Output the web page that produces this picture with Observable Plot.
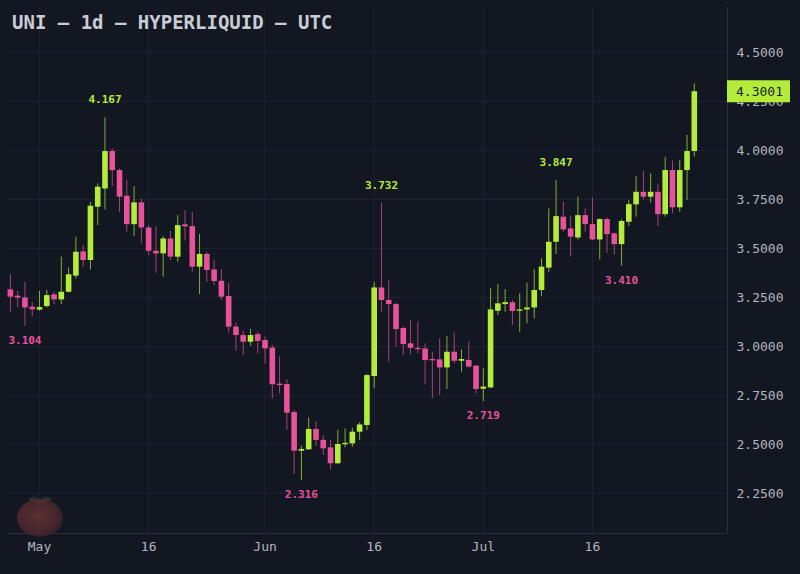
<!DOCTYPE html>
<html><head><meta charset="utf-8">
<script src="https://cdn.jsdelivr.net/npm/d3@7"></script>
<script src="https://cdn.jsdelivr.net/npm/@observablehq/plot@0.6"></script>
<style>
html,body{margin:0;padding:0;background:#131722;}
#wrap{position:relative;width:800px;height:574px;overflow:hidden;background:#131722;}
#title{position:absolute;left:12px;top:13px;font:bold 19px/19px "DejaVu Sans Mono",monospace;color:#c9ccd3;white-space:pre;}
#peach{position:absolute;left:15px;top:494px;}
</style></head><body>
<div id="wrap"><div id="chart"></div>
<div id="title">UNI — 1d — HYPERLIQUID — UTC</div>
<svg id="peach" width="50" height="44" viewBox="0 0 50 44">
  <defs><radialGradient id="pg" cx="45%" cy="45%" r="62%">
    <stop offset="0%" stop-color="#7a3a38"/><stop offset="70%" stop-color="#5a2b30"/><stop offset="100%" stop-color="#2e1e28"/></radialGradient></defs>
  <path d="M13 5 Q20 0 25 6 Q30 0 37 5 Q32 9 25 9 Q18 9 13 5Z" fill="#2e4236" opacity="0.7"/>
  <ellipse cx="25" cy="24" rx="23" ry="19" fill="url(#pg)" opacity="0.7"/>
</svg>
</div>
<script>
// ---- data ----
const dates = ["2024-04-27","2024-04-28","2024-04-29","2024-04-30",
"2024-05-01","2024-05-02","2024-05-03","2024-05-04","2024-05-05","2024-05-06","2024-05-07","2024-05-08","2024-05-09","2024-05-10",
"2024-05-11","2024-05-12","2024-05-13","2024-05-14","2024-05-15","2024-05-16","2024-05-17","2024-05-18","2024-05-19","2024-05-20",
"2024-05-21","2024-05-22","2024-05-23","2024-05-24","2024-05-25","2024-05-26","2024-05-27","2024-05-28","2024-05-29","2024-05-30","2024-05-31",
"2024-06-01","2024-06-02","2024-06-03","2024-06-04","2024-06-05","2024-06-06","2024-06-07","2024-06-08","2024-06-09","2024-06-10",
"2024-06-11","2024-06-12","2024-06-13","2024-06-14","2024-06-15","2024-06-16","2024-06-17","2024-06-18","2024-06-19","2024-06-20",
"2024-06-21","2024-06-22","2024-06-23","2024-06-24","2024-06-25","2024-06-26","2024-06-27","2024-06-28","2024-06-29","2024-06-30",
"2024-07-01","2024-07-02","2024-07-03","2024-07-04","2024-07-05","2024-07-06","2024-07-07","2024-07-08","2024-07-09","2024-07-10",
"2024-07-11","2024-07-12","2024-07-13","2024-07-14","2024-07-15","2024-07-16","2024-07-17","2024-07-18","2024-07-19","2024-07-20",
"2024-07-21","2024-07-22","2024-07-23","2024-07-24","2024-07-25","2024-07-26","2024-07-27","2024-07-28","2024-07-29","2024-07-30"];
const open = [3.289,3.257,3.248,3.201,
3.186,3.204,3.264,3.238,3.277,3.359,3.483,3.439,3.711,3.804,
3.995,3.898,3.767,3.622,3.733,3.605,3.486,3.473,3.549,3.456,
3.621,3.612,3.405,3.470,3.391,3.333,3.255,3.099,3.056,3.022,3.061,
3.031,2.992,2.808,2.806,2.663,2.466,2.473,2.577,2.521,2.483,
2.402,2.499,2.503,2.563,2.597,2.847,3.299,3.235,3.214,3.092,
3.014,2.991,2.988,2.934,2.932,2.891,2.971,2.925,2.929,2.900,
2.782,2.789,3.180,3.214,3.223,3.180,3.187,3.197,3.286,3.400,
3.532,3.660,3.600,3.554,3.668,3.622,3.544,3.648,3.575,3.520,
3.634,3.723,3.787,3.762,3.787,3.673,3.898,3.708,3.898,3.995];
const high = [3.367,3.281,3.328,3.226,
3.281,3.286,3.277,3.456,3.401,3.558,3.515,3.736,3.830,4.167,
4.008,3.906,3.850,3.816,3.753,3.617,3.612,3.561,3.588,3.668,
3.694,3.685,3.572,3.481,3.442,3.393,3.323,3.119,3.078,3.087,3.073,
3.048,3.005,2.946,2.830,2.674,2.490,2.636,2.614,2.546,2.521,
2.572,2.580,2.583,2.611,2.857,3.328,3.732,3.337,3.221,3.099,
3.133,3.124,3.014,2.971,3.039,3.051,3.068,2.983,3.022,2.903,
2.886,3.294,3.316,3.291,3.235,3.269,3.323,3.391,3.447,3.702,
3.847,3.736,3.663,3.762,3.702,3.758,3.651,3.656,3.580,3.646,
3.745,3.867,3.893,3.881,3.830,3.966,3.946,3.949,4.077,4.340];
const low = [3.175,3.197,3.104,3.150,
3.180,3.197,3.214,3.214,3.272,3.345,3.405,3.391,3.617,3.697,
3.816,3.685,3.583,3.561,3.524,3.464,3.374,3.354,3.439,3.430,
3.538,3.379,3.265,3.328,3.311,3.235,3.068,2.976,2.954,3.002,2.963,
2.912,2.733,2.759,2.572,2.347,2.316,2.470,2.490,2.444,2.371,
2.398,2.483,2.486,2.520,2.571,2.784,3.175,2.920,2.997,2.954,
2.958,2.963,2.804,2.733,2.750,2.781,2.912,2.869,2.891,2.759,
2.719,2.784,3.158,3.175,3.107,3.073,3.116,3.141,3.255,3.379,
3.469,3.583,3.456,3.544,3.583,3.541,3.442,3.476,3.469,3.410,
3.612,3.660,3.748,3.731,3.612,3.660,3.677,3.685,3.745,3.966];
const close = [3.252,3.247,3.197,3.187,
3.199,3.260,3.238,3.277,3.366,3.481,3.439,3.716,3.813,3.995,
3.898,3.762,3.622,3.733,3.605,3.486,3.473,3.549,3.456,3.617,
3.611,3.405,3.470,3.388,3.332,3.252,3.099,3.056,3.022,3.056,3.026,
2.988,2.805,2.801,2.660,2.466,2.475,2.577,2.521,2.478,2.402,
2.500,2.505,2.563,2.600,2.852,3.299,3.235,3.214,3.087,3.010,
2.991,2.985,2.929,2.927,2.891,2.971,2.925,2.934,2.895,2.781,
2.793,3.187,3.218,3.224,3.179,3.187,3.197,3.286,3.405,3.532,
3.663,3.595,3.558,3.668,3.622,3.544,3.648,3.571,3.520,3.638,
3.724,3.787,3.762,3.787,3.673,3.898,3.708,3.898,3.995,4.3001];

// swing-high / swing-low annotations
const highDates = ["2024-05-10","2024-06-17","2024-07-11"];
const highValues = [4.167,3.732,3.847];
const lowDates = ["2024-04-29","2024-06-06","2024-07-01","2024-07-20"];
const lowValues = [3.104,2.316,2.719,3.410];

const yTicks = [2.25,2.5,2.75,3.0,3.25,3.5,3.75,4.0,4.25,4.5];
const xTickDates = ["2024-05-01","2024-05-16","2024-06-01","2024-06-16","2024-07-01","2024-07-16"];
const xTickLabels = ["May","16","Jun","16","Jul","16"];

const UP = "#b4ec3c", DOWN = "#e8529c";
const toDate = d => new Date(d + "T00:00:00Z");

const candles = dates.map((d, i) => ({date: toDate(d), open: open[i], high: high[i], low: low[i], close: close[i]}));
const highs = highDates.map((d, i) => ({date: toDate(d), value: highValues[i]}));
const lows = lowDates.map((d, i) => ({date: toDate(d), value: lowValues[i]}));
const xTicks = xTickDates.map(toDate);

const xStart = new Date("2024-04-26T17:45:00Z");
const xEnd = new Date("2024-08-03T13:30:00Z");
const yMin = 2.046, yMax = 4.73;
const colorOf = d => d.close >= d.open ? UP : DOWN;
const minBody = 0.007;
const bodyEnd = d => Math.abs(d.close - d.open) < minBody ? d.open + (d.close >= d.open ? minBody : -minBody) : d.close;
const fmt3 = d3.format(".3f");

const chart = Plot.plot({
  width: 800, height: 574,
  marginTop: 7, marginBottom: 41, marginLeft: 8, marginRight: 73,
  style: {background: "#131722", color: "#b2b5be", fontFamily: "'DejaVu Sans Mono', monospace", fontSize: "13px", overflow: "visible"},
  x: {type: "utc", domain: [xStart, xEnd], label: null},
  y: {domain: [yMin, yMax], label: null},
  marks: [
    Plot.gridY(yTicks, {stroke: "#1f2331", strokeOpacity: 1}),
    Plot.gridX(xTicks, {stroke: "#1f2331", strokeOpacity: 1}),
    Plot.ruleX(candles, {x: "date", y1: "low", y2: "high", stroke: colorOf, strokeOpacity: 0.7, strokeWidth: 1}),
    Plot.ruleX(candles, {x: "date", y1: "open", y2: bodyEnd, stroke: colorOf, strokeWidth: 5.6}),
    Plot.ruleX([xEnd], {stroke: "#2a2e3b"}),
    Plot.ruleY([yMin], {stroke: "#2a2e3b"}),
    Plot.axisY(yTicks, {anchor: "right", tickSize: 0, tickPadding: 9, tickFormat: d3.format(".4f"), fill: "#b2b5be", fontSize: 13}),
    Plot.axisX(xTicks, {anchor: "bottom", tickSize: 0, tickPadding: 8, tickFormat: d => xTickLabels[xTicks.findIndex(t => +t === +d)], fill: "#b2b5be", fontSize: 13}),
    Plot.text(highs, {x: "date", y: "value", text: d => fmt3(d.value), dy: -18, lineAnchor: "middle", fill: UP, fontSize: 11, fontWeight: "bold"}),
    Plot.text(lows, {x: "date", y: "value", text: d => fmt3(d.value), dy: 14, lineAnchor: "middle", fill: DOWN, fontSize: 11, fontWeight: "bold"})
  ]
});
document.getElementById("chart").appendChild(chart);
// last-price tag on the y axis, positioned through the chart's own scales
const last = candles[candles.length - 1];
const yPx = chart.scale("y").apply(last.close);
const xPx = chart.scale("x").apply(xEnd);
const tag = d3.select(chart).append("g");
tag.append("rect").attr("x", xPx).attr("y", yPx - 11).attr("width", 63).attr("height", 22).attr("fill", UP);
tag.append("text").attr("x", xPx + 9).attr("y", yPx).attr("dy", "0.35em").attr("text-anchor", "start")
  .attr("fill", "#1c2230").attr("font-size", 13).attr("font-family", "'DejaVu Sans Mono', monospace")
  .text(d3.format(".4f")(last.close));
</script>
</body></html>
